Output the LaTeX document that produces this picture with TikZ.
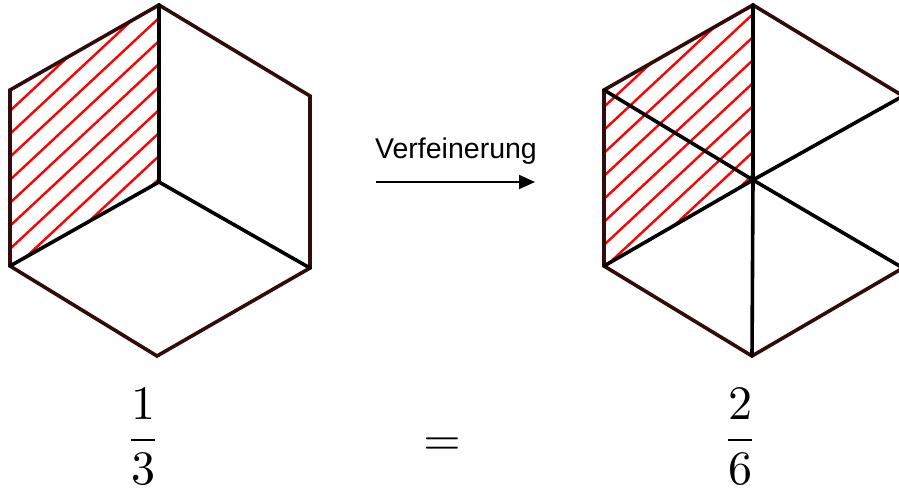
\documentclass[tikz,border=0pt]{standalone}
\usepackage{graphicx}
\usepackage{fontspec}
\newfontfamily\arialfont{Liberation Sans}
\usetikzlibrary{arrows.meta}
\definecolor{edgebrown}{RGB}{50,12,12}
\definecolor{hatchred}{RGB}{255,0,0}
\tikzset{
  outeredge/.style={draw=edgebrown, line width=3.6pt, line join=miter},
  inneredge/.style={draw=black, line width=3.6pt, line cap=round},
  hatchline/.style={draw=hatchred, line width=2.4pt},
  fracnode/.style={inner sep=0pt, anchor=base},
  labeltext/.style={inner sep=0pt, anchor=base, font=\arialfont\fontsize{28.5}{32}\selectfont},
  refarrow/.style={draw=black, line width=2pt, -{Triangle[length=16pt,width=14pt]}}
}
\newcommand{\bigmath}[1]{\scalebox{4.8}{$\displaystyle #1$}}
\begin{document}
\begin{tikzpicture}[x=1pt,y=-1pt]
\useasboundingbox (0,0) rectangle (899,495);
% left hexagon vertices
\coordinate (LT) at (159,5);
\coordinate (LUL) at (10,90);
\coordinate (LUR) at (310,96);
\coordinate (LC) at (159,182);
\coordinate (LLL) at (10,266);
\coordinate (LLR) at (310,268);
\coordinate (LB) at (157,356);
% right hexagon vertices
\coordinate (RT) at (753,5);
\coordinate (RUL) at (604,90);
\coordinate (RUR) at (903,96);
\coordinate (RC) at (753,180);
\coordinate (RLL) at (604,266);
\coordinate (RLR) at (903,268);
\coordinate (RB) at (752,356);
% hatching left
\begin{scope}
\clip (LT) -- (LUL) -- (LLL) -- (LC) -- cycle;
\foreach \k in {-6,...,9} {
  \draw[hatchline] ({159-250*cos(43)},{18+23*\k+250*sin(43)}) -- ++({500*cos(43)},{-500*sin(43)});
}
\end{scope}
% hatching right
\begin{scope}
\clip (RT) -- (RUL) -- (RLL) -- (RC) -- cycle;
\foreach \k in {-6,...,9} {
  \draw[hatchline] ({753-250*cos(43)},{14+23*\k+250*sin(43)}) -- ++({500*cos(43)},{-500*sin(43)});
}
\end{scope}
% left hexagon
\draw[outeredge] (LT) -- (LUR) -- (LLR) -- (LB) -- (LLL) -- (LUL) -- cycle;
\draw[inneredge] (LC) -- (LT);
\draw[inneredge] (LC) -- (LLL);
\draw[inneredge] (LC) -- (LLR);
% right hexagon
\draw[outeredge] (RT) -- (RUR) -- (RLR) -- (RB) -- (RLL) -- (RUL) -- cycle;
\draw[inneredge] (RC) -- (RT);
\draw[inneredge] (RC) -- (RB);
\draw[inneredge] (RC) -- (RUL);
\draw[inneredge] (RC) -- (RUR);
\draw[inneredge] (RC) -- (RLL);
\draw[inneredge] (RC) -- (RLR);
% label and arrow
\node[labeltext] (lbl) at (456,158) {Verfeinerung};
\coordinate (arrS) at (376,182);
\coordinate (arrE) at (535,182);
\draw[refarrow] (arrS) -- (arrE);
% fractions
\node[fracnode] (f1) at (143,452) {\bigmath{\frac{1}{3}}};
\node[fracnode] (eq) at (442,455) {\bigmath{=}};
\node[fracnode] (f2) at (740,452) {\bigmath{\frac{2}{6}}};
\end{tikzpicture}
\end{document}
